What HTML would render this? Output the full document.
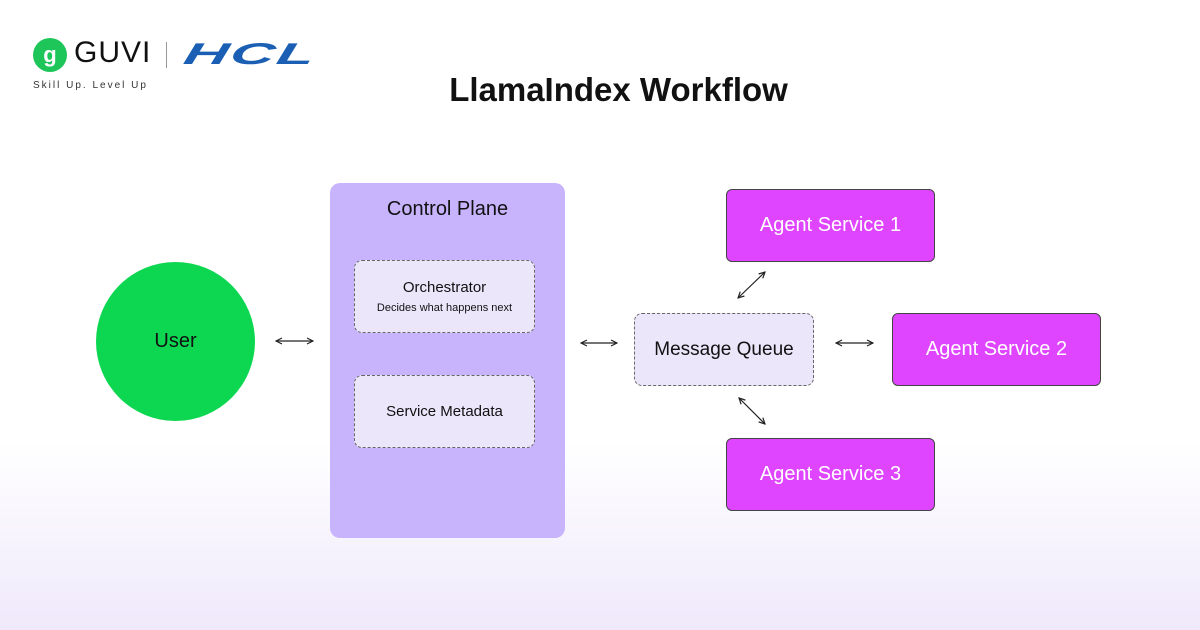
<!DOCTYPE html>
<html><head><style>
body{margin:0;width:1200px;height:630px;overflow:hidden;font-family:"Liberation Sans",sans-serif;background:linear-gradient(to bottom,#fff 0%,#fff 70%,#efe9fb 100%);position:relative}
.a{position:absolute}
.dash{position:absolute;background:#ece6fb;border:1.5px dashed #666;border-radius:8px;box-sizing:border-box;display:flex;flex-direction:column;align-items:center;justify-content:center;color:#111}
.ag{position:absolute;width:209px;height:73px;background:#df45fe;border:1.5px solid #444;border-radius:6px;box-sizing:border-box;color:#fff;font-size:20px;display:flex;align-items:center;justify-content:center}
</style></head><body>
<div class="a" style="left:33px;top:38px;width:34px;height:34px;border-radius:50%;background:#1ec65a;color:#fff;font-weight:bold;font-size:22px;text-align:center;line-height:33px">g</div>
<div class="a" style="left:74px;top:36px;font-size:30px;color:#111;letter-spacing:1px">GUVI</div>
<div class="a" style="left:166px;top:42px;width:1px;height:26px;background:#999"></div>
<div class="a" style="left:184px;top:38px;font-size:30px;font-weight:bold;font-style:italic;color:#1a5fb4;letter-spacing:1px;transform:skewX(-12deg) scaleX(2.05);transform-origin:left">HCL</div>
<div class="a" style="left:33px;top:80px;font-size:10px;letter-spacing:2px;color:#333">Skill Up. Level Up</div>
<div class="a" style="left:0;width:1237px;top:71px;text-align:center;font-size:33px;font-weight:bold;color:#111">LlamaIndex Workflow</div>
<div class="a" style="left:96px;top:262px;width:159px;height:159px;border-radius:50%;background:#0dd751;display:flex;align-items:center;justify-content:center;font-size:20px;color:#111">User</div>
<div class="a" style="left:330px;top:183px;width:235px;height:355px;background:#c8b4fd;border-radius:10px"></div>
<div class="a" style="left:330px;top:198px;width:235px;text-align:center;font-size:20px;color:#111">Control Plane</div>
<div class="dash" style="left:354px;top:260px;width:181px;height:73px"><div style="font-size:15px">Orchestrator</div><div style="font-size:11px;margin-top:6px">Decides what happens next</div></div>
<div class="dash" style="left:354px;top:375px;width:181px;height:73px;font-size:15px">Service Metadata</div>
<div class="dash" style="left:634px;top:313px;width:180px;height:73px;font-size:19px">Message Queue</div>
<div class="ag" style="left:726px;top:189px">Agent Service 1</div>
<div class="ag" style="left:892px;top:313px">Agent Service 2</div>
<div class="ag" style="left:726px;top:438px">Agent Service 3</div>
<svg class="a" style="left:0;top:0" width="1200" height="630">
<defs><marker id="m" markerWidth="8" markerHeight="8" refX="7" refY="4" orient="auto-start-reverse" markerUnits="userSpaceOnUse"><path d="M1,1 L7,4 L1,7" fill="none" stroke="#222" stroke-width="1.2"/></marker></defs>
<g stroke="#222" stroke-width="1.2" fill="none">
<line x1="276" y1="341" x2="313" y2="341" marker-start="url(#m)" marker-end="url(#m)"/>
<line x1="581" y1="343" x2="617" y2="343" marker-start="url(#m)" marker-end="url(#m)"/>
<line x1="836" y1="343" x2="873" y2="343" marker-start="url(#m)" marker-end="url(#m)"/>
<line x1="738" y1="298" x2="765" y2="272" marker-start="url(#m)" marker-end="url(#m)"/>
<line x1="739" y1="398" x2="765" y2="424" marker-start="url(#m)" marker-end="url(#m)"/>
</g></svg>
</body></html>
